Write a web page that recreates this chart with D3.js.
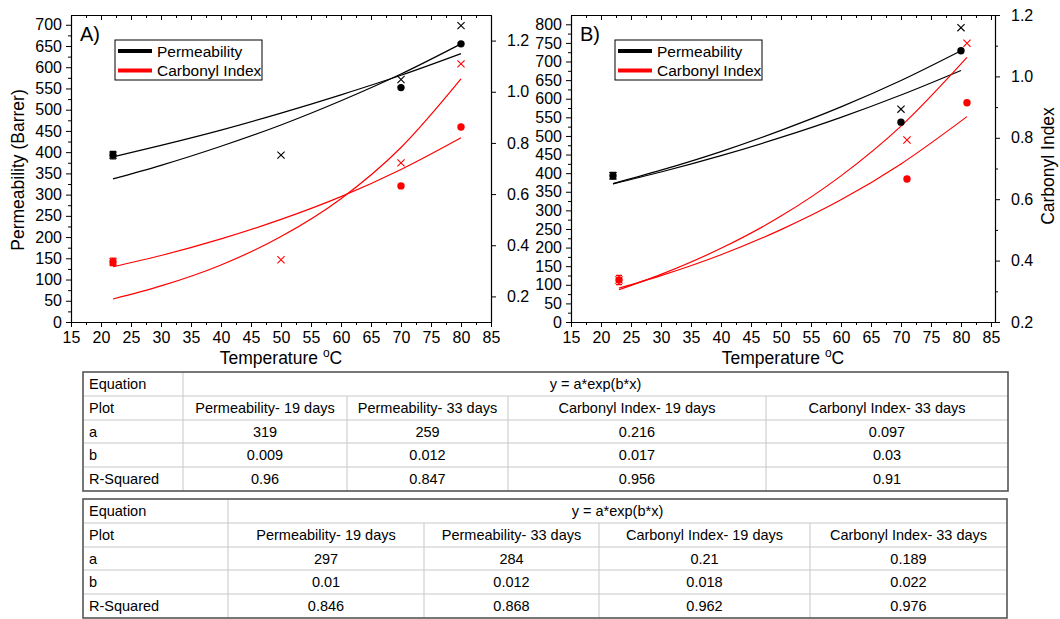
<!DOCTYPE html>
<html>
<head>
<meta charset="utf-8">
<script src="https://cdn.jsdelivr.net/npm/d3@7"></script>
<style>
  body { margin: 0; background: #fff; }
  svg { display: block; font-family: "Liberation Sans", Arial, sans-serif; }
</style>
</head>
<body>
<svg id="chart" width="1060" height="619"></svg>
<script>
// ---- panel A data (circles = 19 days, crosses = 33 days) ----
var tempsA19 = [22, 70, 80];
var permA19 = [393, 552, 655];
var ciA19 = [0.335, 0.632, 0.862];
var tempsA33 = [22, 50, 70, 80];
var permA33 = [393, 393, 571, 698];
var ciA33 = [0.335, 0.343, 0.722, 1.109];

// fitted curves
var fitTempsA = [22, 30, 40, 50, 60, 70, 80];
var fitPermA19 = [389, 416, 452, 492, 535, 581, 632];
var fitPermA33 = [337, 369, 414, 464, 521, 584, 655];
var fitCiA19 = [0.316, 0.360, 0.425, 0.501, 0.590, 0.696, 0.820];
var fitCiA33 = [0.190, 0.241, 0.323, 0.434, 0.582, 0.782, 1.050];

// ---- panel B data ----
var tempsBPerm = [22, 70, 80];
var permB19 = [393, 537, 729];
var permB33 = [393, 572, 791];
var tempsBCi = [23, 71, 81];
var ciB19 = [0.337, 0.666, 0.914];
var ciB33 = [0.337, 0.793, 1.108];

var fitTempsBPerm = [22, 30, 40, 50, 60, 70, 80];
var fitPermB19 = [371, 403, 447, 496, 550, 610, 676];
var fitPermB33 = [372, 408, 458, 515, 578, 649, 729];
var fitTempsBCi = [23, 30, 40, 50, 60, 70, 81];
var fitCiB19 = [0.310, 0.351, 0.419, 0.501, 0.598, 0.715, 0.869];
var fitCiB33 = [0.305, 0.355, 0.440, 0.545, 0.676, 0.838, 1.062];

// error bars on the first points
var permErr = 9;
var ciErr = 0.015;

// tick labels / axis ranges
var xTicks = d3.range(15, 86, 5);
var permTicksA = d3.range(0, 701, 50);
var permTicksB = d3.range(0, 801, 50);
var ciTicks = [0.2, 0.4, 0.6, 0.8, 1.0, 1.2];

var legendLabels = ["Permeability", "Carbonyl Index"];
var legendColors = ["#000", "#ff0000"];

// ---- tables ----
var tblEquation = "y = a*exp(b*x)";
var tblRowNames = ["Equation", "Plot", "a", "b", "R-Squared"];
var tblPlots = ["Permeability- 19 days", "Permeability- 33 days", "Carbonyl Index- 19 days", "Carbonyl Index- 33 days"];
var tbl1A = ["319", "259", "0.216", "0.097"];
var tbl1B = ["0.009", "0.012", "0.017", "0.03"];
var tbl1R2 = ["0.96", "0.847", "0.956", "0.91"];
var tbl2A = ["297", "284", "0.21", "0.189"];
var tbl2B = ["0.01", "0.012", "0.018", "0.022"];
var tbl2R2 = ["0.846", "0.868", "0.962", "0.976"];

var svg = d3.select("#chart");

function zip(xs, ys) {
    return xs.map(function(x, i) { return {x: x, y: ys[i]}; });
}

function draw_panel(p) {
    var g = svg.append("g");
    var x = d3.scaleLinear().domain(p.xDomain).range([p.left, p.right]);
    var yL = d3.scaleLinear().domain(p.permDomain).range([p.bottom, p.top]);
    var yR = d3.scaleLinear().domain(p.ciDomain).range([p.bottom, p.top]);

    var xMinor = d3.range(17.5, 85, 5);
    var permMinor = d3.range(25, p.permDomain[1], 50);
    var ciMinor = d3.range(p.ciDomain[0] + 0.1, p.ciDomain[1], 0.2).filter(function(v) {
        return Math.abs(Math.round(v * 10) % 2) === 1 && v > p.ciDomain[0] + 0.01;
    });

    function style_axis(sel, fs) {
        sel.selectAll("path").attr("stroke", "#000").attr("stroke-width", 1.2);
        sel.selectAll("line").attr("stroke", "#000").attr("stroke-width", 1);
        sel.selectAll("text").attr("font-size", fs).attr("fill", "#000")
            .attr("font-family", "'Liberation Sans', Arial, sans-serif");
    }

    // bottom
    var gb = g.append("g").attr("transform", "translate(0," + p.bottom + ")")
        .call(d3.axisBottom(x).tickValues(xTicks).tickSize(5).tickPadding(5).tickSizeOuter(0));
    style_axis(gb, 16);
    var gbm = g.append("g").attr("transform", "translate(0," + p.bottom + ")")
        .call(d3.axisBottom(x).tickValues(xMinor).tickSize(3).tickFormat(""));
    gbm.select("path").remove();
    style_axis(gbm, 16);

    // top (mirror, ticks inward)
    var gt = g.append("g").attr("transform", "translate(0," + p.top + ")")
        .call(d3.axisBottom(x).tickValues(xTicks).tickSize(5).tickFormat("").tickSizeOuter(0));
    style_axis(gt, 16);
    var gtm = g.append("g").attr("transform", "translate(0," + p.top + ")")
        .call(d3.axisBottom(x).tickValues(xMinor).tickSize(3).tickFormat(""));
    gtm.select("path").remove();
    style_axis(gtm, 16);

    // left
    var gl = g.append("g").attr("transform", "translate(" + p.left + ",0)")
        .call(d3.axisLeft(yL).tickValues(p.permTicks).tickSize(5).tickPadding(4).tickSizeOuter(0));
    style_axis(gl, 16);
    var glm = g.append("g").attr("transform", "translate(" + p.left + ",0)")
        .call(d3.axisLeft(yL).tickValues(permMinor).tickSize(3).tickFormat(""));
    glm.select("path").remove();
    style_axis(glm, 16);

    // right
    var gr = g.append("g").attr("transform", "translate(" + p.right + ",0)")
        .call(d3.axisRight(yR).tickValues(ciTicks).tickSize(5).tickPadding(11)
            .tickFormat(d3.format(".1f")).tickSizeOuter(0));
    style_axis(gr, 16);
    var grm = g.append("g").attr("transform", "translate(" + p.right + ",0)")
        .call(d3.axisRight(yR).tickValues(ciMinor).tickSize(3).tickFormat(""));
    grm.select("path").remove();
    style_axis(grm, 16);

    // fitted curves
    var lineL = d3.line().x(function(d) { return x(d.x); }).y(function(d) { return yL(d.y); })
        .curve(d3.curveMonotoneX);
    var lineR = d3.line().x(function(d) { return x(d.x); }).y(function(d) { return yR(d.y); })
        .curve(d3.curveMonotoneX);
    [p.fitPerm19, p.fitPerm33].forEach(function(f) {
        g.append("path").attr("d", lineL(zip(p.fitTempsPerm, f)))
            .attr("fill", "none").attr("stroke", "#000").attr("stroke-width", 1.2);
    });
    [p.fitCi19, p.fitCi33].forEach(function(f) {
        g.append("path").attr("d", lineR(zip(p.fitTempsCi, f)))
            .attr("fill", "none").attr("stroke", "#ff0000").attr("stroke-width", 1.2);
    });

    // markers
    function circles(pts, sc, color) {
        g.selectAll(null).data(pts).enter().append("circle")
            .attr("cx", function(d) { return x(d.x); })
            .attr("cy", function(d) { return sc(d.y); })
            .attr("r", 3.7).attr("fill", color);
    }
    function crosses(pts, sc, color) {
        var s = 3.6;
        g.selectAll(null).data(pts).enter().append("path")
            .attr("d", function(d) {
                var cx = x(d.x), cy = sc(d.y);
                return "M" + (cx - s) + "," + (cy - s) + "L" + (cx + s) + "," + (cy + s) +
                    "M" + (cx - s) + "," + (cy + s) + "L" + (cx + s) + "," + (cy - s);
            })
            .attr("stroke", color).attr("stroke-width", 1.1).attr("fill", "none");
    }
    function errbar(d, err, sc, color) {
        var cx = x(d.x), y1 = sc(d.y + err), y2 = sc(d.y - err);
        g.append("path")
            .attr("d", "M" + cx + "," + y1 + "L" + cx + "," + y2 +
                "M" + (cx - 3) + "," + y1 + "L" + (cx + 3) + "," + y1 +
                "M" + (cx - 3) + "," + y2 + "L" + (cx + 3) + "," + y2)
            .attr("stroke", color).attr("stroke-width", 1.3).attr("fill", "none");
    }
    var perm19 = zip(p.tempsPerm19, p.perm19), perm33 = zip(p.tempsPerm33, p.perm33);
    var ci19 = zip(p.tempsCi19, p.ci19), ci33 = zip(p.tempsCi33, p.ci33);
    errbar(perm19[0], permErr, yL, "#000");
    errbar(ci19[0], ciErr, yR, "#ff0000");
    circles(perm19, yL, "#000");
    crosses(perm33, yL, "#000");
    circles(ci19, yR, "#ff0000");
    crosses(ci33, yR, "#ff0000");

    // panel letter
    g.append("text").attr("x", p.left + 9).attr("y", 41).attr("font-size", 20).text(p.label);

    // legend
    var lg = g.append("g").attr("transform", "translate(" + p.legendX + ",40)");
    lg.append("rect").attr("x", 0).attr("y", 0).attr("width", 147).attr("height", 40)
        .attr("fill", "#fff").attr("stroke", "#000").attr("stroke-width", 1);
    legendLabels.forEach(function(t, i) {
        lg.append("line").attr("x1", 3).attr("x2", 37)
            .attr("y1", 11 + i * 19.5).attr("y2", 11 + i * 19.5)
            .attr("stroke", legendColors[i]).attr("stroke-width", 4);
        lg.append("text").attr("x", 42).attr("y", 16.5 + i * 19.5)
            .attr("font-size", 15.5).text(t);
    });

    // x title
    var xt = g.append("text").attr("x", (p.left + p.right) / 2).attr("y", 364)
        .attr("text-anchor", "middle").attr("font-size", 17.5);
    xt.append("tspan").text("Temperature ");
    xt.append("tspan").attr("font-size", 12).attr("dy", -7).text("o");
    xt.append("tspan").attr("dy", 7).text("C");

    if (p.leftTitle) {
        g.append("text").attr("transform", "translate(24,170) rotate(-90)")
            .attr("text-anchor", "middle").attr("font-size", 17.5).text(p.leftTitle);
    }
    if (p.rightTitle) {
        g.append("text").attr("transform", "translate(1054,166) rotate(-90)")
            .attr("text-anchor", "middle").attr("font-size", 17.5).text(p.rightTitle);
    }
}

draw_panel({
    label: "A)", left: 71, right: 491, top: 15, bottom: 322,
    xDomain: [15, 85], permDomain: [0, 723], ciDomain: [0.1, 1.3],
    permTicks: permTicksA, legendX: 115,
    tempsPerm19: tempsA19, perm19: permA19, tempsPerm33: tempsA33, perm33: permA33,
    tempsCi19: tempsA19, ci19: ciA19, tempsCi33: tempsA33, ci33: ciA33,
    fitTempsPerm: fitTempsA, fitPerm19: fitPermA19, fitPerm33: fitPermA33,
    fitTempsCi: fitTempsA, fitCi19: fitCiA19, fitCi33: fitCiA33,
    leftTitle: "Permeability (Barrer)"
});

draw_panel({
    label: "B)", left: 571, right: 995, top: 15, bottom: 322,
    xDomain: [15, 85.67], permDomain: [0, 825], ciDomain: [0.2, 1.2],
    permTicks: permTicksB, legendX: 615,
    tempsPerm19: tempsBPerm, perm19: permB19, tempsPerm33: tempsBPerm, perm33: permB33,
    tempsCi19: tempsBCi, ci19: ciB19, tempsCi33: tempsBCi, ci33: ciB33,
    fitTempsPerm: fitTempsBPerm, fitPerm19: fitPermB19, fitPerm33: fitPermB33,
    fitTempsCi: fitTempsBCi, fitCi19: fitCiB19, fitCi33: fitCiB33,
    rightTitle: "Carbonyl Index"
});

// ---- tables ----
function draw_table(cols, rows, body) {
    var g = svg.append("g");
    var left = cols[0], right = cols[cols.length - 1];
    var top = rows[0], bottom = rows[rows.length - 1];
    // inner horizontal lines
    rows.slice(1, -1).forEach(function(y) {
        g.append("line").attr("x1", left).attr("x2", right).attr("y1", y).attr("y2", y)
            .attr("stroke", "#c8c8c8").attr("stroke-width", 1);
    });
    // first column divider spans all rows, others start at the second row
    cols.slice(1, -1).forEach(function(cx, i) {
        g.append("line").attr("x1", cx).attr("x2", cx)
            .attr("y1", i === 0 ? top : rows[1]).attr("y2", bottom)
            .attr("stroke", "#c8c8c8").attr("stroke-width", 1);
    });
    g.append("rect").attr("x", left).attr("y", top).attr("width", right - left)
        .attr("height", bottom - top).attr("fill", "none")
        .attr("stroke", "#555").attr("stroke-width", 1.6);

    tblRowNames.forEach(function(name, r) {
        var base = (rows[r] + rows[r + 1]) / 2 + 5;
        g.append("text").attr("x", left + 6).attr("y", base).attr("font-size", 14.5).text(name);
        if (r === 0) {
            g.append("text").attr("x", (cols[1] + right) / 2).attr("y", base)
                .attr("text-anchor", "middle").attr("font-size", 14.5).text(tblEquation);
        } else {
            body[r - 1].forEach(function(t, c) {
                g.append("text").attr("x", (cols[c + 1] + cols[c + 2]) / 2).attr("y", base)
                    .attr("text-anchor", "middle").attr("font-size", 14.5).text(t);
            });
        }
    });
}

draw_table([83, 183, 347, 508, 766, 1008], [372, 396, 420, 443, 467, 491],
    [tblPlots, tbl1A, tbl1B, tbl1R2]);
draw_table([83, 228, 424, 599, 810, 1007], [499, 523, 547, 570, 594, 618],
    [tblPlots, tbl2A, tbl2B, tbl2R2]);
</script>
</body>
</html>
